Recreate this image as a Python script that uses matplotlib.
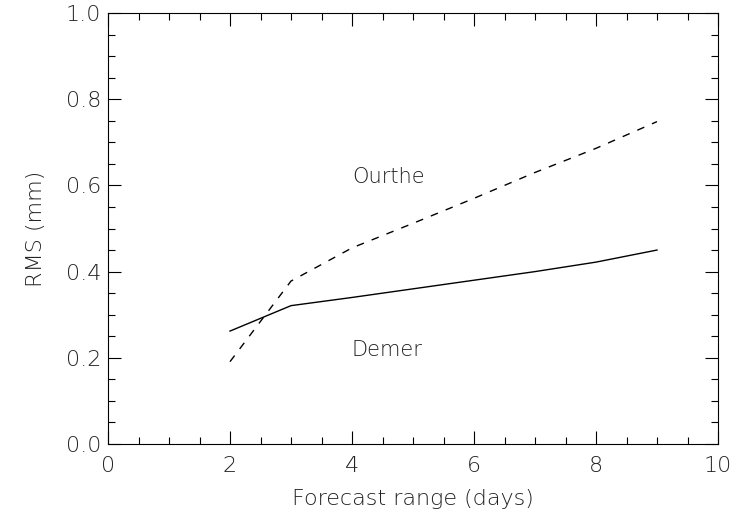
import matplotlib
matplotlib.use("Agg")
import matplotlib.pyplot as plt
from matplotlib.ticker import MultipleLocator, FormatStrFormatter

days = [2, 3, 4, 5, 6, 7, 8, 9]
demer = [0.262, 0.321, 0.340, 0.360, 0.380, 0.400, 0.422, 0.450]
ourthe = [0.191, 0.378, 0.455, 0.512, 0.570, 0.630, 0.686, 0.748]

plt.rcParams['font.family'] = ['DejaVu Sans']
plt.rcParams['font.weight'] = 'light'
plt.rcParams['axes.labelweight'] = 'light'
txt_color = '#222222'
fig = plt.figure(figsize=(7.48, 5.21), dpi=100)
ax = fig.add_axes([108/748, 1-444/521, 610/748, 431/521])

ax.plot(days, demer, color='black', lw=1.0)
ax.plot(days, ourthe, color='black', lw=1.0, dashes=(5.5, 6.0))

ax.text(4.0, 0.62, 'Ourthe', fontsize=15, va='center', ha='left', color=txt_color, fontweight='light')
ax.text(4.0, 0.218, 'Demer', fontsize=15, va='center', ha='left', color=txt_color, fontweight='light')

ax.set_xlim(0, 10)
ax.set_ylim(0, 1.0)
ax.xaxis.set_major_locator(MultipleLocator(2))
ax.xaxis.set_minor_locator(MultipleLocator(0.5))
ax.yaxis.set_major_locator(MultipleLocator(0.2))
ax.yaxis.set_minor_locator(MultipleLocator(0.05))
ax.yaxis.set_major_formatter(FormatStrFormatter('%.1f'))
ax.xaxis.set_major_formatter(FormatStrFormatter('%d'))
ax.tick_params(which='both', direction='in', top=True, right=True, width=0.8,
               labelsize=16, color='black', labelcolor=txt_color)
ax.tick_params(which='major', length=9.5)
ax.tick_params(which='minor', length=5)
ax.tick_params(axis='x', which='major', pad=9)
ax.tick_params(axis='y', which='major', pad=5)
for s in ax.spines.values():
    s.set_linewidth(0.8)

ax.set_xlabel('Forecast range (days)', fontsize=16, labelpad=9, color=txt_color, fontweight='light')
ax.set_ylabel('RMS (mm)', fontsize=16, labelpad=14, color=txt_color, fontweight='light')

fig.savefig('out.png', dpi=100)
